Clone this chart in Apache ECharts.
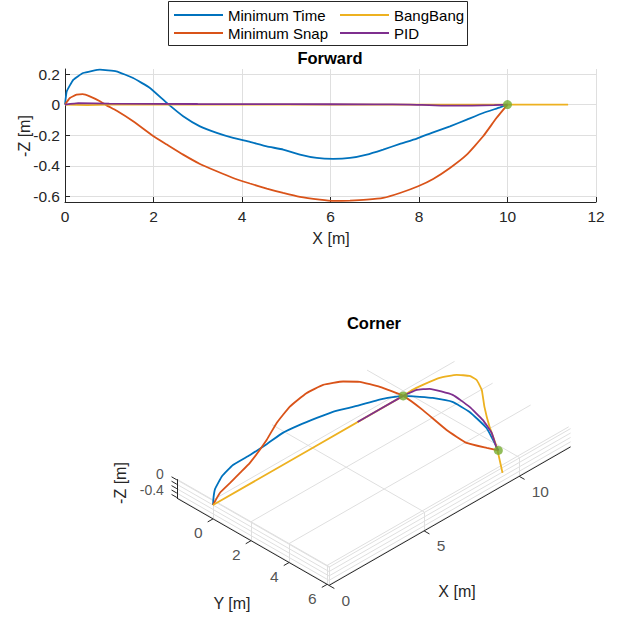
<!DOCTYPE html>
<html>
<head>
<meta charset="utf-8">
<title>Forward / Corner</title>
<script src="https://cdn.jsdelivr.net/npm/echarts@6/dist/echarts.min.js"></script>
<style>
  html, body { margin: 0; padding: 0; background: #fff; }
  #chart { width: 618px; height: 619px; }
</style>
</head>
<body>
<div id="chart"></div>
<script>
// ---------- Forward: X [m] vs -Z [m] ----------
var fwdTimeX = [0, 0.04, 0.19, 0.41, 0.79, 1.16, 1.54, 1.92, 2.30, 2.67, 3.05, 3.43, 3.80, 4.18, 4.56, 4.93, 5.31, 5.69, 6.06, 6.44, 6.82, 7.19, 7.57, 7.95, 8.32, 8.70, 9.08, 9.45, 9.83, 10];
var fwdTimeZ = [0, 0.087, 0.163, 0.207, 0.229, 0.218, 0.174, 0.109, 0.011, -0.076, -0.142, -0.185, -0.218, -0.244, -0.273, -0.294, -0.327, -0.349, -0.355, -0.349, -0.327, -0.294, -0.257, -0.222, -0.181, -0.142, -0.098, -0.055, -0.018, 0];

var fwdSnapX = [0, 0.11, 0.26, 0.40, 0.56, 0.79, 0.94, 1.16, 1.54, 2.00, 2.30, 2.67, 3.05, 3.43, 3.80, 4.18, 4.56, 4.93, 5.31, 5.76, 6.06, 6.44, 6.82, 7.19, 7.57, 7.98, 8.32, 8.70, 9.08, 9.45, 9.75, 10];
var fwdSnapZ = [0, 0.043, 0.065, 0.068, 0.054, 0.022, -0.005, -0.039, -0.109, -0.207, -0.261, -0.327, -0.388, -0.436, -0.480, -0.516, -0.549, -0.578, -0.604, -0.622, -0.630, -0.628, -0.622, -0.610, -0.578, -0.534, -0.486, -0.414, -0.327, -0.207, -0.088, 0];

var fwdBangX = [0, 0.5, 1.0, 10, 11.37];
var fwdBangZ = [0, -0.003, 0, 0, 0];

var fwdPidX = [0, 0.3, 1, 3, 5, 7, 7.8, 8.5, 9.2, 9.7, 10];
var fwdPidZ = [0, 0.010, 0.007, 0.004, 0.003, 0.002, 0, -0.006, -0.006, -0.003, 0];

var fwdWaypoints = [[10, 0]];

var zTicks2d = [-0.6, -0.4, -0.2, 0, 0.2];

// ---------- Corner: points [x, y, -z] in metres ----------
var cornerTime = [[0, 0, 0], [0.38, -0.35, 0], [0.79, -0.68, 0], [1.57, -1.09, 0], [2.36, -1.31, 0], [3.27, -1.32, 0], [4.22, -1.38, 0], [5.14, -1.47, 0], [5.95, -1.39, 0], [6.72, -1.26, 0], [7.42, -1.12, 0], [8.17, -0.82, 0], [9.32, -0.40, 0], [10, 0, 0], [10.39, 0.48, 0], [10.68, 0.87, 0], [11.02, 1.57, 0], [11.01, 2.48, 0], [10.72, 3.66, 0], [10.12, 4.79, 0], [10, 5, 0]];
var cornerSnap = [[0, 0, 0], [0.73, -0.37, 0], [1.46, -0.56, 0], [2.18, -0.76, 0], [2.90, -0.96, 0], [4.39, -1.57, 0], [5.42, -2.08, 0], [6.53, -2.49, 0], [7.58, -2.67, 0], [8.40, -2.61, 0], [9.08, -2.24, 0], [9.50, -1.78, 0], [9.80, -1.03, 0], [10, 0, 0], [9.87, 1.15, 0], [9.58, 2.70, 0], [9.51, 3.82, 0], [9.81, 4.58, 0], [10, 5, 0]];
var cornerBang = [[0, 0, 0], [10, 0, 0], [10.52, -0.03, 0], [11.02, 0.01, 0], [11.78, 0.13, 0], [12.37, 0.44, 0], [12.66, 0.83, 0], [12.66, 1.20, 0], [12.34, 1.79, 0], [11.63, 2.64, 0], [10.85, 3.69, 0], [10.12, 4.79, 0], [9.08, 6.14, 0]];
var cornerPid = [[7.6, 0, 0], [10, 0, 0], [10.63, 0.08, 0], [11.02, 0.37, 0], [11.35, 1.25, 0], [11.24, 2.25, 0], [10.99, 3.19, 0], [10.63, 4.02, 0], [10.07, 4.84, 0], [10, 5, 0]];
var cornerWaypoints = [[10, 0, 0], [10, 5, 0]];

// 3D axes limits and ticks
var boxX = [0, 12.7], boxY = [-1.9, 6.1], boxZ = [-0.63, 0.23];
var xTicks3d = [0, 5, 10];
var yTicks3d = [0, 2, 4, 6];
var zTicks3d = [-0.6, -0.4, -0.2, 0, 0.2];
var zLabels3d = [0, -0.4];

var C_TIME = '#0072BD', C_SNAP = '#D95319', C_BANG = '#EDB120', C_PID = '#7E2F8E', C_WP = '#77AC30';
var FONT = '"Liberation Sans", Arial, Helvetica, sans-serif';
var AX = '#262626', GRID = '#dfdfdf';

// view of the 3D axes (orthographic), origin placed in the page
var VIEW_AZ = 45, VIEW_EL = 35, PX_PER_M = 26.9;
var ORIGIN = [213, 505];
var W = 618, H = 619;

function project(p) {
    var a = VIEW_AZ * Math.PI / 180, e = VIEW_EL * Math.PI / 180;
    var u = p[0] * Math.cos(a) + p[1] * Math.sin(a);
    var v = (p[0] * Math.sin(a) - p[1] * Math.cos(a)) * Math.sin(e) + p[2] * Math.cos(e);
    return [u, v];
}
function zip(xs, ys) {
    return xs.map(function (x, i) { return [x, ys[i]]; });
}
function seg(a, b) {
    return { coords: [project(a), project(b)] };
}

// box grid (back planes as seen from below: top plane, x = min wall, y = max wall)
var gridSegs = [];
xTicks3d.forEach(function (x) { gridSegs.push(seg([x, boxY[0], boxZ[1]], [x, boxY[1], boxZ[1]])); });
yTicks3d.forEach(function (y) { gridSegs.push(seg([boxX[0], y, boxZ[1]], [boxX[1], y, boxZ[1]])); });
zTicks3d.forEach(function (z) { gridSegs.push(seg([boxX[0], boxY[0], z], [boxX[0], boxY[1], z])); });
yTicks3d.forEach(function (y) { gridSegs.push(seg([boxX[0], y, boxZ[0]], [boxX[0], y, boxZ[1]])); });
zTicks3d.forEach(function (z) { gridSegs.push(seg([boxX[0], boxY[1], z], [boxX[1], boxY[1], z])); });
xTicks3d.forEach(function (x) { gridSegs.push(seg([x, boxY[1], boxZ[0]], [x, boxY[1], boxZ[1]])); });

var TL = 0.28;
var axisSegs = [
    seg([boxX[0], boxY[0], boxZ[0]], [boxX[0], boxY[1], boxZ[0]]),
    seg([boxX[0], boxY[1], boxZ[0]], [boxX[1], boxY[1], boxZ[0]]),
    seg([boxX[0], boxY[0], boxZ[0]], [boxX[0], boxY[0], boxZ[1]])
];
xTicks3d.forEach(function (x) { axisSegs.push(seg([x, boxY[1], boxZ[0]], [x, boxY[1] + TL, boxZ[0]])); });
yTicks3d.forEach(function (y) { axisSegs.push(seg([boxX[0], y, boxZ[0]], [boxX[0] - TL, y, boxZ[0]])); });
zTicks3d.forEach(function (z) { axisSegs.push(seg([boxX[0], boxY[0], z], [boxX[0], boxY[0] - TL, z])); });

var tickLabels3d = [];
xTicks3d.forEach(function (x) {
    tickLabels3d.push({ value: project([x, boxY[1], boxZ[0]]), label: { formatter: String(x), position: [12.5, 15], align: 'left' } });
});
yTicks3d.forEach(function (y) {
    tickLabels3d.push({ value: project([boxX[0], y, boxZ[0]]), label: { formatter: String(y), position: [-10.5, 14], align: 'right' } });
});
// the z labels sit close together, as in MATLAB; smaller box to keep them apart
var zLabelDy = { '0': -10, '-0.4': -3 };
zLabels3d.forEach(function (z) {
    tickLabels3d.push({
        value: project([boxX[0], boxY[0], z]),
        label: { formatter: String(z), position: [-13, zLabelDy[String(z)]], align: 'right', fontSize: 14, lineHeight: 12 }
    });
});

function line2d(name, color, data) {
    return {
        name: name, type: 'line', xAxisIndex: 0, yAxisIndex: 0, data: data,
        symbol: 'none', smooth: 0.12, color: color,
        lineStyle: { color: color, width: 1.8 }
    };
}
function line3d(name, color, pts) {
    return {
        name: name, type: 'line', xAxisIndex: 1, yAxisIndex: 1, data: pts.map(project),
        symbol: 'none', smooth: 0.12, color: color, z: 3,
        lineStyle: { color: color, width: 1.8 }
    };
}

var chart = echarts.init(document.getElementById('chart'), null, { renderer: 'svg' });

var legendBase = {
    orient: 'vertical', top: 7, itemWidth: 49, itemHeight: 2, itemGap: 2,
    icon: 'rect', selectedMode: false, padding: 0,
    textStyle: { fontSize: 15, lineHeight: 16, fontFamily: FONT, color: '#000' }
};

var option = {
    animation: false,
    backgroundColor: '#fff',
    textStyle: { fontFamily: FONT },
    legend: [
        Object.assign({}, legendBase, { left: 174, data: ['Minimum Time', 'Minimum Snap'] }),
        Object.assign({}, legendBase, { left: 340, data: ['BangBang', 'PID'] })
    ],
    grid: [
        { left: 65, top: 69, width: 531, height: 133 },
        { left: 0, top: 0, width: W, height: H }
    ],
    xAxis: [
        {
            type: 'value', gridIndex: 0, min: 0, max: 12, interval: 2,
            axisLine: { onZero: false, lineStyle: { color: AX, width: 1 } },
            axisTick: { inside: true, length: 5, lineStyle: { color: AX } },
            axisLabel: { color: AX, fontSize: 15.5, fontFamily: FONT, margin: 6 },
            splitLine: { show: true, lineStyle: { color: GRID, width: 1 } }
        },
        {
            type: 'value', gridIndex: 1, show: false,
            min: -ORIGIN[0] / PX_PER_M, max: (W - ORIGIN[0]) / PX_PER_M
        }
    ],
    yAxis: [
        {
            type: 'value', gridIndex: 0, min: -0.637, max: 0.233,
            axisLine: { show: true, onZero: false, lineStyle: { color: AX, width: 1 } },
            axisTick: { show: true, inside: true, length: 5, customValues: zTicks2d, lineStyle: { color: AX } },
            axisLabel: { color: AX, fontSize: 15.5, fontFamily: FONT, margin: 5, customValues: zTicks2d },
            splitLine: { show: true, lineStyle: { color: GRID, width: 1 } }
        },
        {
            type: 'value', gridIndex: 1, show: false,
            min: -(H - ORIGIN[1]) / PX_PER_M, max: ORIGIN[1] / PX_PER_M
        }
    ],
    graphic: [
        { type: 'rect', shape: { x: 168.5, y: 1.5, width: 299, height: 44 }, style: { fill: 'none', stroke: AX, lineWidth: 1 } },
        { type: 'text', x: 330, y: 58, style: { text: 'Forward', fontSize: 16.5, fontWeight: 'bold', fontFamily: FONT, fill: '#000', align: 'center', verticalAlign: 'middle' } },
        { type: 'text', x: 331, y: 238, style: { text: 'X [m]', fontSize: 16, fontFamily: FONT, fill: AX, align: 'center', verticalAlign: 'middle' } },
        { type: 'text', x: 24, y: 136, rotation: Math.PI / 2, style: { text: '-Z [m]', fontSize: 16, fontFamily: FONT, fill: AX, align: 'center', verticalAlign: 'middle' } },
        { type: 'text', x: 374, y: 323, style: { text: 'Corner', fontSize: 16.5, fontWeight: 'bold', fontFamily: FONT, fill: '#000', align: 'center', verticalAlign: 'middle' } },
        { type: 'text', x: 457, y: 591, style: { text: 'X [m]', fontSize: 16, fontFamily: FONT, fill: AX, align: 'center', verticalAlign: 'middle' } },
        { type: 'text', x: 232, y: 603, style: { text: 'Y [m]', fontSize: 16, fontFamily: FONT, fill: AX, align: 'center', verticalAlign: 'middle' } },
        { type: 'text', x: 120, y: 483, rotation: Math.PI / 2, style: { text: '-Z [m]', fontSize: 16, fontFamily: FONT, fill: AX, align: 'center', verticalAlign: 'middle' } }
    ],
    series: [
        line2d('Minimum Time', C_TIME, zip(fwdTimeX, fwdTimeZ)),
        line2d('Minimum Snap', C_SNAP, zip(fwdSnapX, fwdSnapZ)),
        line2d('BangBang', C_BANG, zip(fwdBangX, fwdBangZ)),
        line2d('PID', C_PID, zip(fwdPidX, fwdPidZ)),
        {
            type: 'scatter', xAxisIndex: 0, yAxisIndex: 0, data: fwdWaypoints,
            symbolSize: 9, itemStyle: { color: C_WP }, z: 5
        },
        {
            type: 'lines', coordinateSystem: 'cartesian2d', xAxisIndex: 1, yAxisIndex: 1,
            data: gridSegs, silent: true, z: 1,
            lineStyle: { color: GRID, width: 1, opacity: 1 }
        },
        {
            type: 'lines', coordinateSystem: 'cartesian2d', xAxisIndex: 1, yAxisIndex: 1,
            data: axisSegs, silent: true, z: 2,
            lineStyle: { color: AX, width: 1, opacity: 1 }
        },
        {
            type: 'scatter', xAxisIndex: 1, yAxisIndex: 1, data: tickLabels3d,
            symbolSize: 0, silent: true,
            label: { show: true, color: AX, fontSize: 15.5, fontFamily: FONT, verticalAlign: 'middle' }
        },
        line3d('Minimum Time', C_TIME, cornerTime),
        line3d('Minimum Snap', C_SNAP, cornerSnap),
        line3d('BangBang', C_BANG, cornerBang),
        line3d('PID', C_PID, cornerPid),
        {
            type: 'scatter', xAxisIndex: 1, yAxisIndex: 1, data: cornerWaypoints.map(project),
            symbolSize: 9, itemStyle: { color: C_WP }, z: 5
        }
    ]
};

chart.setOption(option);
</script>
</body>
</html>
